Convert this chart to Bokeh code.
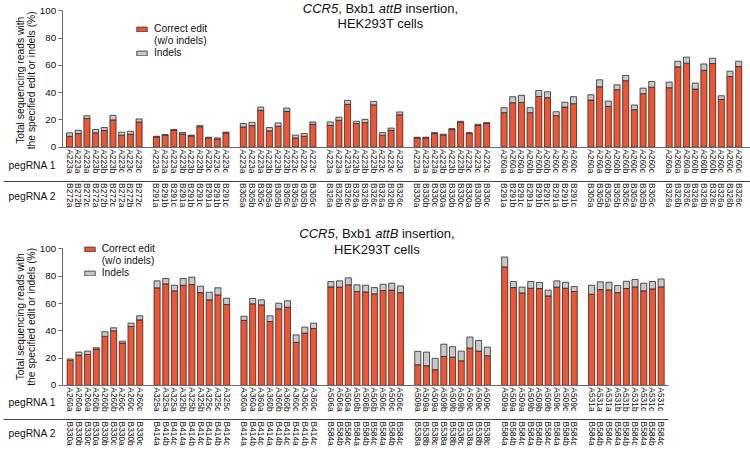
import math
from bokeh.plotting import figure
from bokeh.models import (Range1d, LinearAxis, FixedTicker, Label, Legend, LegendItem,
                          ColumnDataSource, AllLabels)
from bokeh.embed import file_html
from bokeh.resources import INLINE

# ---------------- data ----------------
top_sizes = [9, 9, 9, 9, 9, 9, 8, 9]
top_peg1 = [
    "A223a", "A223a", "A223a", "A223b", "A223b", "A223b", "A223c", "A223c", "A223c",
    "A223a", "A223a", "A223a", "A223b", "A223b", "A223b", "A223c", "A223c", "A223c",
    "A223a", "A223a", "A223a", "A223b", "A223b", "A223b", "A223c", "A223c", "A223c",
    "A223a", "A223a", "A223a", "A223b", "A223b", "A223b", "A223c", "A223c", "A223c",
    "A223a", "A223a", "A223a", "A223b", "A223b", "A223b", "A223c", "A223c", "A223c",
    "A260a", "A260a", "A260a", "A260b", "A260b", "A260b", "A260c", "A260c", "A260c",
    "A260a", "A260a", "A260b", "A260b", "A260b", "A260c", "A260c", "A260c",
    "A260a", "A260a", "A260a", "A260b", "A260b", "A260b", "A260c", "A260c", "A260c",
]
top_peg2 = [
    "B272a", "B272b", "B272c", "B272a", "B272b", "B272c", "B272a", "B272b", "B272c",
    "B291a", "B291b", "B291c", "B291a", "B291b", "B291c", "B291a", "B291b", "B291c",
    "B305a", "B305b", "B305c", "B305a", "B305b", "B305c", "B305a", "B305b", "B305c",
    "B326a", "B326b", "B326c", "B326a", "B326b", "B326c", "B326a", "B326b", "B326c",
    "B330a", "B330b", "B330c", "B330a", "B330b", "B330c", "B330a", "B330b", "B330c",
    "B291a", "B291b", "B291c", "B291a", "B291b", "B291c", "B291a", "B291b", "B291c",
    "B305a", "B305b", "B305a", "B305b", "B305c", "B305a", "B305b", "B305c",
    "B326a", "B326b", "B326c", "B326a", "B326b", "B326c", "B326a", "B326b", "B326c",
]
top_correct = [
    8.0, 10.0, 21.0, 10.5, 12.2, 20.0, 8.8, 9.5, 18.5,
    7.5, 8.8, 12.4, 9.7, 8.3, 15.0, 6.6, 6.0, 10.5,
    14.8, 15.8, 27.0, 12.0, 15.3, 26.3, 6.8, 8.0, 16.8,
    16.0, 19.7, 31.4, 17.3, 18.0, 31.0, 8.8, 12.4, 23.8,
    6.8, 6.8, 10.0, 8.8, 12.9, 18.2, 10.0, 16.0, 17.5,
    25.3, 32.6, 32.8, 25.3, 37.2, 36.3, 23.1, 29.4, 31.9,
    34.5, 44.3, 29.9, 42.1, 48.7, 27.5, 39.2, 44.0,
    43.6, 58.9, 61.6, 42.6, 56.4, 61.3, 35.0, 51.8, 59.1,
]
top_indels = [
    2.5, 2.4, 2.0, 2.5, 2.2, 3.4, 2.2, 2.2, 2.2,
    0.5, 0.4, 0.6, 1.0, 0.5, 0.8, 0.7, 0.8, 0.5,
    2.5, 2.4, 2.4, 2.4, 2.5, 2.4, 2.0, 2.0, 1.7,
    2.5, 2.3, 2.9, 1.7, 2.4, 2.6, 1.9, 1.6, 2.0,
    0.5, 0.5, 0.7, 0.7, 0.7, 0.8, 0.7, 0.8, 0.5,
    3.7, 4.4, 5.2, 3.7, 4.4, 4.3, 2.9, 3.6, 5.1,
    3.9, 5.1, 3.9, 3.6, 3.9, 3.4, 4.1, 4.2,
    4.1, 4.1, 4.4, 4.4, 4.6, 3.9, 2.7, 3.9, 3.9,
]

bot_sizes = [9, 9, 9, 9, 9, 9, 9]
bot_peg1 = [
    "A260a", "A260a", "A260a", "A260b", "A260b", "A260b", "A260c", "A260c", "A260c",
    "A325a", "A325a", "A325a", "A325b", "A325b", "A325b", "A325c", "A325c", "A325c",
    "A360a", "A360a", "A360a", "A360b", "A360b", "A360b", "A360c", "A360c", "A360c",
    "A506a", "A506a", "A506a", "A506b", "A506b", "A506b", "A506c", "A506c", "A506c",
    "A509a", "A509a", "A509a", "A509b", "A509b", "A509b", "A509c", "A509c", "A509c",
    "A509a", "A509a", "A509a", "A509b", "A509b", "A509b", "A509c", "A509c", "A509c",
    "A531a", "A531a", "A531a", "A531b", "A531b", "A531b", "A531c", "A531c", "A531c",
]
bot_peg2 = [
    "B330a", "B330b", "B330c", "B330a", "B330b", "B330c", "B330a", "B330b", "B330c",
    "B414a", "B414b", "B414c", "B414a", "B414b", "B414c", "B414a", "B414b", "B414c",
    "B414a", "B414b", "B414c", "B414a", "B414b", "B414c", "B414a", "B414b", "B414c",
    "B584a", "B584b", "B584c", "B584a", "B584b", "B584c", "B584a", "B584b", "B584c",
    "B538a", "B538b", "B538c", "B538a", "B538b", "B538c", "B538a", "B538b", "B538c",
    "B584a", "B584b", "B584c", "B584a", "B584b", "B584c", "B584a", "B584b", "B584c",
    "B584a", "B584b", "B584c", "B584a", "B584b", "B584c", "B584a", "B584b", "B584c",
]
bot_correct = [
    18.3, 22.2, 22.7, 26.6, 35.9, 40.0, 31.0, 43.2, 48.0,
    71.5, 74.4, 69.3, 73.4, 73.9, 68.0, 62.7, 66.3, 59.3,
    47.6, 59.8, 59.0, 46.8, 56.1, 57.3, 31.5, 38.3, 41.7,
    72.2, 72.0, 73.7, 68.8, 68.5, 67.1, 69.5, 69.8, 68.0,
    15.1, 14.4, 11.5, 21.2, 20.7, 18.0, 27.3, 25.1, 21.7,
    86.8, 71.7, 67.8, 71.2, 71.0, 65.6, 72.0, 71.2, 68.8,
    66.8, 70.2, 70.0, 68.0, 71.0, 72.2, 69.3, 70.7, 72.2,
]
bot_indels = [
    1.0, 2.2, 2.4, 1.0, 3.4, 2.2, 1.4, 2.4, 3.0,
    5.1, 3.9, 4.1, 4.9, 5.4, 4.7, 5.6, 5.2, 4.6,
    3.1, 3.9, 3.7, 4.2, 4.1, 4.7, 5.5, 4.4, 3.9,
    3.9, 4.6, 5.1, 4.9, 4.9, 4.6, 4.6, 5.1, 4.9,
    9.8, 10.0, 8.3, 9.0, 7.6, 7.1, 8.1, 7.8, 6.3,
    7.3, 4.4, 4.2, 4.9, 4.4, 4.2, 4.6, 4.4, 3.6,
    6.6, 5.7, 5.6, 5.2, 5.3, 5.4, 5.6, 5.4, 5.8,
]

y_ticks = [0, 20, 40, 60, 80, 100]
series_names = ["Correct edit", "(w/o indels)", "Indels"]
row_names = ["pegRNA 1", "pegRNA 2"]
title_parts = [("CCR5", "italic"), (", Bxb1", "normal"), ("attB", "italic"), ("insertion,", "normal")]
title_line2 = "HEK293T cells"
y_label_lines = ["Total sequencing reads with", "the specified edit or indels (%)"]

# ---------------- style / geometry ----------------
FONT = "Liberation Sans"
RED = "#EF5532"
GRAY = "#C9C9C9"
EDGE = "#2a2a2a"
AXIS = "#6a6a6a"
SEP = "#444444"
TXT = "#111111"
REF_W, REF_H = 750, 451
W, H = 750, 450
SX, SY = W / REF_W, H / REF_H
SLOT = 8.69     # reference px per bar slot
YPX = 1.367     # reference px per percent
TITLE_FS = 13
EM = TITLE_FS / SX
title_offsets = [0.0, 2.722, 5.835, 7.892]   # em offsets (Arial metrics)
title_width = 11.949

# panel geometry in reference pixels
TOP = dict(x0=69.04, base=147.0)
BOT = dict(x0=69.7, base=385.7)


def xr_of(g):
    return Range1d((0 - g["x0"]) / SLOT, (REF_W - g["x0"]) / SLOT)


def yr_of(g):
    return Range1d((g["base"] - REF_H) / YPX, g["base"] / YPX)


p = figure(width=W, height=H, x_range=xr_of(TOP), y_range=yr_of(TOP),
           x_axis_type=None, y_axis_type=None, output_backend="svg",
           toolbar_location=None, min_border=0, min_border_left=0, min_border_right=0,
           min_border_top=0, min_border_bottom=0)
p.extra_x_ranges = {"bx": xr_of(BOT)}
p.extra_y_ranges = {"by": yr_of(BOT)}
p.xgrid.visible = False
p.ygrid.visible = False
p.outline_line_color = None
p.background_fill_color = "white"
p.border_fill_color = "white"


def positions(sizes):
    pos, k = [], 0
    for n in sizes:
        pos.extend(range(k, k + n))
        k += n + 1
    return pos


def panel(g, xrn, yrn, peg1, peg2, correct, indels, sizes, right_ref, t_center, t_y1,
          t_y2, leg_left, leg_top, leg_step, sep_ref, row_y, ylab_y):
    xd = lambda rx: (rx - g["x0"]) / SLOT
    yd = lambda ry: (g["base"] - ry) / YPX
    rng = dict(x_range_name=xrn, y_range_name=yrn)
    xs = positions(sizes)

    src = ColumnDataSource(dict(x=xs, correct=correct, indels=indels))
    r_red, r_gray = p.vbar_stack(["correct", "indels"], x="x", width=0.7, source=src,
                                 fill_color=[RED, GRAY], line_color=EDGE, line_width=0.8,
                                 **rng)
    r_blank = p.vbar(x=[], top=[], width=0.7, fill_alpha=0, line_alpha=0, **rng)

    # y axis
    ya = LinearAxis(fixed_location=xd(61.7), bounds=(0, 100),
                    ticker=FixedTicker(ticks=y_ticks, minor_ticks=[]), **rng)
    ya.axis_line_color = AXIS
    ya.major_tick_line_color = AXIS
    ya.major_tick_out = 4
    ya.major_tick_in = 0
    ya.minor_tick_line_color = None
    ya.major_label_text_font = FONT
    ya.major_label_text_font_size = "9.8px"
    ya.major_label_text_color = TXT
    ya.major_label_standoff = 2
    p.add_layout(ya, "left")
    # y axis title (two lines, rotated)
    for line, rx in zip(y_label_lines, (19.5, 31.3)):
        p.add_layout(Label(x=xd(rx), y=yd(ylab_y), text=line, angle=math.pi / 2,
                           text_font=FONT, text_font_size="10.3px", text_align="center",
                           text_baseline="middle", text_color=TXT, **rng))

    # x axes: pegRNA 1 (on the baseline) and pegRNA 2 (on the separator line)
    def x_axis(labels, loc, x_from, color):
        ax = LinearAxis(fixed_location=loc, bounds=(xd(x_from), xd(right_ref)),
                        ticker=FixedTicker(ticks=xs, minor_ticks=[]),
                        major_label_policy=AllLabels(), **rng)
        ax.major_label_overrides = {k: s for k, s in zip(xs, labels)}
        ax.major_label_orientation = "vertical"
        ax.major_tick_line_color = None
        ax.minor_tick_line_color = None
        ax.major_tick_out = 0
        ax.major_tick_in = 0
        ax.major_label_standoff = 2
        ax.major_label_text_font = FONT
        ax.major_label_text_font_size = "8.4px"
        ax.major_label_text_color = TXT
        ax.axis_line_color = color
        ax.axis_line_width = 1
        p.add_layout(ax, "below")

    x_axis(peg1, 0, 61.7, AXIS)
    x_axis(peg2, yd(sep_ref), 3, SEP)

    # row names
    for name, ry in zip(row_names, row_y):
        p.add_layout(Label(x=xd(31.7), y=yd(ry), text=name, text_font=FONT,
                           text_font_size="10.3px", text_align="center",
                           text_baseline="middle", text_color=TXT, **rng))

    # title
    left = t_center - title_width * EM / 2
    for (txt, style), off in zip(title_parts, title_offsets):
        p.add_layout(Label(x=xd(left + off * EM), y=yd(t_y1), text=txt, text_font=FONT,
                           text_font_size=f"{TITLE_FS}px", text_font_style=style,
                           text_align="left", text_baseline="middle", text_color=TXT,
                           **rng))
    p.add_layout(Label(x=xd(t_center), y=yd(t_y2), text=title_line2, text_font=FONT,
                       text_font_size=f"{TITLE_FS}px", text_align="center",
                       text_baseline="middle", text_color=TXT, **rng))

    # legend
    vx = leg_left * SX
    vy = (REF_H - (leg_top + 3 * leg_step)) * SY
    leg = Legend(items=[LegendItem(label=series_names[0], renderers=[r_red]),
                        LegendItem(label=series_names[1], renderers=[r_blank]),
                        LegendItem(label=series_names[2], renderers=[r_gray])],
                 location=(vx, vy), orientation="vertical", padding=0, margin=0,
                 spacing=0, border_line_color=None, background_fill_alpha=0,
                 glyph_width=13, glyph_height=6, label_standoff=6,
                 label_height=round(leg_step * SY), label_text_font=FONT,
                 label_text_font_size="10.3px", label_text_color=TXT)
    p.add_layout(leg)


panel(TOP, "default", "default", top_peg1, top_peg2, top_correct, top_indels, top_sizes,
      right_ref=750, t_center=380, t_y1=8.3, t_y2=22.7, leg_left=135, leg_top=23,
      leg_step=12, sep_ref=181, row_y=(165, 196), ylab_y=80)
panel(BOT, "bx", "by", bot_peg1, bot_peg2, bot_correct, bot_indels, bot_sizes,
      right_ref=668, t_center=376.5, t_y1=234, t_y2=250, leg_left=82.7, leg_top=243.3,
      leg_step=12.1, sep_ref=420, row_y=(403, 434), ylab_y=317)

open("out.html", "w").write(file_html(p, INLINE))
